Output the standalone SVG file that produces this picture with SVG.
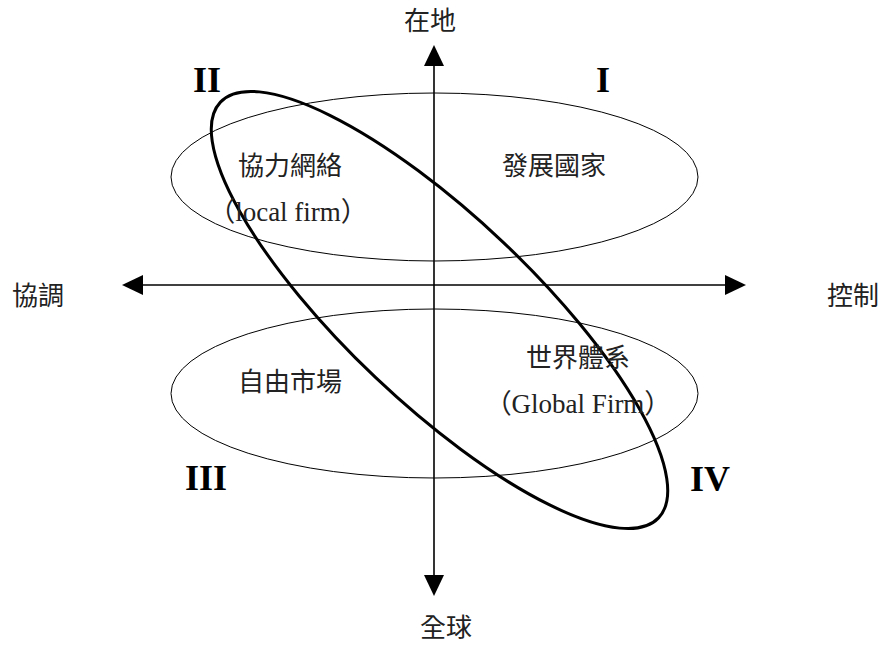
<svg xmlns="http://www.w3.org/2000/svg" width="883" height="646" viewBox="0 0 883 646">
<style>
.cjk{font-family:"Noto Sans CJK TC","Noto Sans CJK SC",sans-serif;font-size:26px;fill:#222}
.lat{font-family:"Liberation Serif","Noto Sans CJK TC",serif;font-size:27px;fill:#222}
.num{font-family:"Liberation Serif",serif;font-size:36px;font-weight:bold;fill:#000}
.thin{fill:none;stroke:#000;stroke-width:1}
.thick{fill:none;stroke:#000;stroke-width:3}
.axis{stroke:#000;stroke-width:1.6;fill:none}
.head{fill:#000}
</style>
<rect width="883" height="646" fill="#fff"/>
<g id="regions">
<ellipse id="top-ellipse" class="thin" cx="434.5" cy="177" rx="263.5" ry="84"/>
<ellipse id="bottom-ellipse" class="thin" cx="434.5" cy="393.5" rx="263.5" ry="84.5"/>
<ellipse id="diag-ellipse" class="thick" cx="439.5" cy="310" rx="302" ry="93" transform="rotate(43.5 439.5 310)"/>
</g>
<g id="connectors">
<line class="axis" x1="434" y1="64" x2="434" y2="577"/>
<polygon class="head" points="434,45 424,66 444,66"/>
<polygon class="head" points="434,596 424,575 444,575"/>
<line class="axis" x1="141" y1="285" x2="727" y2="285"/>
<polygon class="head" points="122,285 143,275 143,295"/>
<polygon class="head" points="746,285 725,275 725,295"/>
</g>
<g id="axis-labels">
<text class="cjk" x="430" y="30" text-anchor="middle">在地</text>
<text class="cjk" x="446" y="637" text-anchor="middle">全球</text>
<text class="cjk" x="38" y="305" text-anchor="middle">協調</text>
<text class="cjk" x="853" y="305" text-anchor="middle">控制</text>
</g>
<g id="quadrants">
<text class="num" x="207" y="92" text-anchor="middle">II</text>
<text class="num" x="603" y="92" text-anchor="middle">I</text>
<text class="num" x="206" y="490" text-anchor="middle">III</text>
<text class="num" x="710" y="491" text-anchor="middle">IV</text>
</g>
<g id="node-network">
<text class="cjk" x="290" y="175" text-anchor="middle">協力網絡</text>
<text class="lat" x="288" y="221" text-anchor="middle">（local firm）</text>
</g>
<g id="node-developmental">
<text class="cjk" x="554" y="175" text-anchor="middle">發展國家</text>
</g>
<g id="node-market">
<text class="cjk" x="290" y="391" text-anchor="middle">自由市場</text>
</g>
<g id="node-world">
<text class="cjk" x="578" y="367" text-anchor="middle">世界體系</text>
<text class="lat" x="578" y="413" text-anchor="middle">（Global Firm）</text>
</g>
</svg>
